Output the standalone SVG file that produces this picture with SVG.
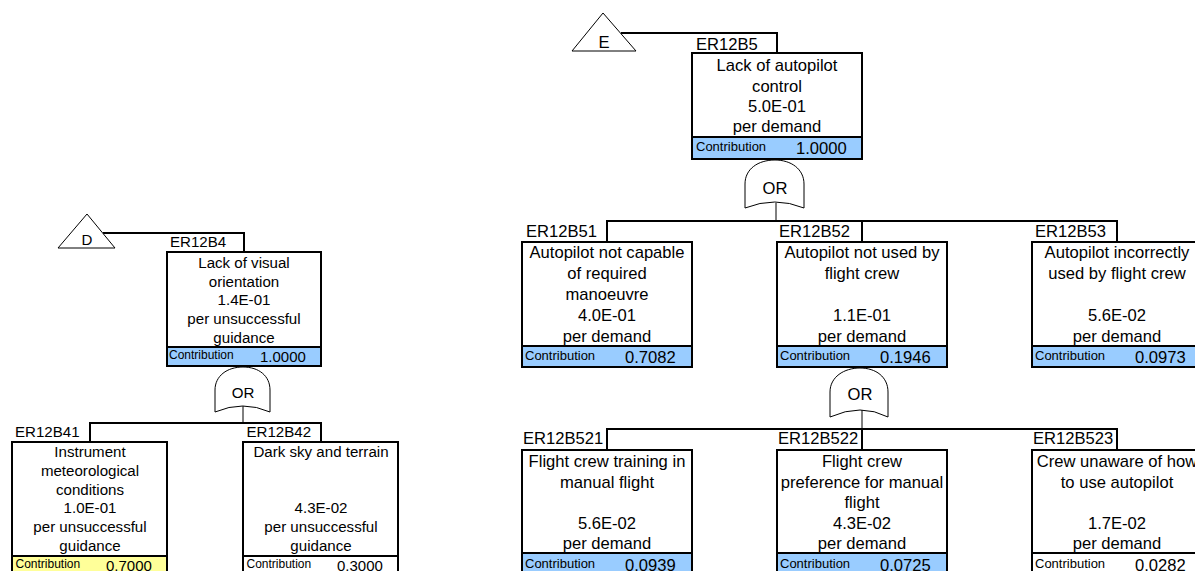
<svg xmlns="http://www.w3.org/2000/svg" width="1195" height="571" viewBox="0 0 1195 571">
<style>
.bg{fill:#ffffff}
.box{fill:#ffffff;stroke:#000;stroke-width:2}
.blue{fill:#99ccff;stroke:#000;stroke-width:2}
.yel{fill:#ffff99;stroke:#000;stroke-width:2}
.wht{fill:#ffffff;stroke:#000;stroke-width:2}
.con{fill:none;stroke:#000;stroke-width:2}
.thin{fill:none;stroke:#000;stroke-width:1}
.gate{fill:#ffffff;stroke:#000;stroke-width:1}
text{font-family:"Liberation Sans",Arial,sans-serif;fill:#000}
.t{font-size:16.6px;text-anchor:middle}
.l{font-size:16.6px}
.c{font-size:13px}
.v{font-size:16.6px}
.td{font-size:15.1px;text-anchor:middle}
.ld{font-size:15.1px}
.cd{font-size:12px}
.vd{font-size:15px}
</style>
<rect class="bg" x="0" y="0" width="1195" height="571"/>

<g id="connectors">
  <!-- D tree -->
  <polyline class="con" points="103,233 244,233 244,252"/>
  <line class="thin" x1="243" y1="406" x2="243" y2="423"/>
  <polyline class="con" points="90,442 90,423 321,423 321,442"/>
  <!-- E tree -->
  <polyline class="con" points="621,33 777,33 777,53"/>
  <line class="thin" x1="776" y1="203" x2="776" y2="221"/>
  <polyline class="con" points="607,242 607,221 1117,221 1117,242"/>
  <line class="con" x1="862" y1="221" x2="862" y2="242"/>
  <line class="thin" x1="862" y1="410" x2="862" y2="429"/>
  <polyline class="con" points="607,450 607,429 1117,429 1117,450"/>
  <line class="con" x1="862" y1="429" x2="862" y2="450"/>
</g>

<!-- Transfer triangles -->
<g id="transfer-D">
  <polygon class="thin" points="58,248 115,248 87,214" style="fill:#fff"/>
  <text class="td" x="87" y="245">D</text>
</g>
<g id="transfer-E">
  <polygon class="thin" points="572,51 636,51 603,13" style="fill:#fff"/>
  <text class="t" x="604" y="48">E</text>
</g>

<!-- D tree -->
<g id="ER12B4">
  <text class="ld" x="170" y="247">ER12B4</text>
  <rect class="box" x="167" y="252" width="154" height="114"/>
  <rect class="blue" x="167" y="347" width="154" height="19"/>
  <text class="td" x="244" y="267.7">Lack of visual</text>
  <text class="td" x="244" y="286.5">orientation</text>
  <text class="td" x="244" y="305.2">1.4E-01</text>
  <text class="td" x="244" y="324">per unsuccessful</text>
  <text class="td" x="244" y="342.7">guidance</text>
  <text class="cd" x="169" y="358.5">Contribution</text>
  <text class="vd" x="260" y="361.5">1.0000</text>
</g>
<g id="gate-ER12B4">
  <path class="gate" d="M215,412 L215,390 C215,376 227,367 243,367 C259,367 270,376 270,390 L270,412 Q243,400 215,412 Z"/>
  <text class="td" x="243" y="398">OR</text>
</g>
<g id="ER12B41">
  <text class="ld" x="15" y="437">ER12B41</text>
  <rect class="box" x="12" y="442" width="155" height="140"/>
  <rect class="yel" x="12" y="556" width="155" height="26"/>
  <text class="td" x="90" y="457">Instrument</text>
  <text class="td" x="90" y="475.8">meteorological</text>
  <text class="td" x="90" y="494.6">conditions</text>
  <text class="td" x="90" y="513.4">1.0E-01</text>
  <text class="td" x="90" y="532.2">per unsuccessful</text>
  <text class="td" x="90" y="551">guidance</text>
  <text class="cd" x="15.5" y="568">Contribution</text>
  <text class="vd" x="106" y="571">0.7000</text>
</g>
<g id="ER12B42">
  <text class="ld" x="246.5" y="437">ER12B42</text>
  <rect class="box" x="243" y="442" width="155" height="140"/>
  <rect class="wht" x="243" y="556" width="155" height="26"/>
  <text class="td" x="321" y="457">Dark sky and terrain</text>
  <text class="td" x="321" y="513.4">4.3E-02</text>
  <text class="td" x="321" y="532.2">per unsuccessful</text>
  <text class="td" x="321" y="551">guidance</text>
  <text class="cd" x="246.5" y="568">Contribution</text>
  <text class="vd" x="337" y="571">0.3000</text>
</g>

<!-- E tree -->
<g id="ER12B5">
  <text class="l" x="696" y="50">ER12B5</text>
  <rect class="box" x="692" y="53" width="170" height="106"/>
  <rect class="blue" x="692" y="137" width="170" height="22"/>
  <text class="t" x="777" y="71">Lack of autopilot</text>
  <text class="t" x="777" y="91.5">control</text>
  <text class="t" x="777" y="112">5.0E-01</text>
  <text class="t" x="777" y="132">per demand</text>
  <text class="c" x="696" y="151">Contribution</text>
  <text class="v" x="796" y="153.5">1.0000</text>
</g>
<g id="gate-ER12B5">
  <path class="gate" d="M745,208 L745,184 C745,169 758,160 775,160 C791,160 804,169 804,184 L804,208 Q775,196 745,208 Z"/>
  <text class="t" x="775" y="193.5">OR</text>
</g>

<g id="ER12B51">
  <text class="l" x="526" y="237">ER12B51</text>
  <rect class="box" x="522" y="242" width="170" height="125"/>
  <rect class="blue" x="522" y="346" width="170" height="21"/>
  <text class="t" x="607" y="258">Autopilot not capable</text>
  <text class="t" x="607" y="279">of required</text>
  <text class="t" x="607" y="300">manoeuvre</text>
  <text class="t" x="607" y="321">4.0E-01</text>
  <text class="t" x="607" y="342">per demand</text>
  <text class="c" x="525" y="359.5">Contribution</text>
  <text class="v" x="625" y="362.5">0.7082</text>
</g>
<g id="ER12B52">
  <text class="l" x="779" y="237">ER12B52</text>
  <rect class="box" x="777" y="242" width="170" height="125"/>
  <rect class="blue" x="777" y="346" width="170" height="21"/>
  <text class="t" x="862" y="258">Autopilot not used by</text>
  <text class="t" x="862" y="279">flight crew</text>
  <text class="t" x="862" y="321">1.1E-01</text>
  <text class="t" x="862" y="342">per demand</text>
  <text class="c" x="780" y="359.5">Contribution</text>
  <text class="v" x="880" y="362.5">0.1946</text>
</g>
<g id="ER12B53">
  <text class="l" x="1035" y="237">ER12B53</text>
  <rect class="box" x="1032" y="242" width="170" height="125"/>
  <rect class="blue" x="1032" y="346" width="170" height="21"/>
  <text class="t" x="1117" y="258">Autopilot incorrectly</text>
  <text class="t" x="1117" y="279">used by flight crew</text>
  <text class="t" x="1117" y="321">5.6E-02</text>
  <text class="t" x="1117" y="342">per demand</text>
  <text class="c" x="1035" y="359.5">Contribution</text>
  <text class="v" x="1135" y="362.5">0.0973</text>
</g>
<g id="gate-ER12B52">
  <path class="gate" d="M830,417 L830,392 C830,377 844,368 860,368 C876,368 888,377 888,392 L888,417 Q861,403 830,417 Z"/>
  <text class="t" x="860" y="399.5">OR</text>
</g>

<g id="ER12B521">
  <text class="l" x="523" y="444">ER12B521</text>
  <rect class="box" x="522" y="450" width="170" height="130"/>
  <rect class="blue" x="522" y="553" width="170" height="27"/>
  <text class="t" x="607" y="467">Flight crew training in</text>
  <text class="t" x="607" y="487.5">manual flight</text>
  <text class="t" x="607" y="528.5">5.6E-02</text>
  <text class="t" x="607" y="549">per demand</text>
  <text class="c" x="525" y="567.5">Contribution</text>
  <text class="v" x="625" y="571">0.0939</text>
</g>
<g id="ER12B522">
  <text class="l" x="778" y="444">ER12B522</text>
  <rect class="box" x="777" y="450" width="170" height="130"/>
  <rect class="blue" x="777" y="553" width="170" height="27"/>
  <text class="t" x="862" y="467">Flight crew</text>
  <text class="t" x="862" y="487.5">preference for manual</text>
  <text class="t" x="862" y="508">flight</text>
  <text class="t" x="862" y="528.5">4.3E-02</text>
  <text class="t" x="862" y="549">per demand</text>
  <text class="c" x="780" y="567.5">Contribution</text>
  <text class="v" x="880" y="571">0.0725</text>
</g>
<g id="ER12B523">
  <text class="l" x="1033" y="444">ER12B523</text>
  <rect class="box" x="1032" y="450" width="170" height="130"/>
  <rect class="wht" x="1032" y="553" width="170" height="27"/>
  <text class="t" x="1117" y="467">Crew unaware of how</text>
  <text class="t" x="1117" y="487.5">to use autopilot</text>
  <text class="t" x="1117" y="528.5">1.7E-02</text>
  <text class="t" x="1117" y="549">per demand</text>
  <text class="c" x="1035" y="567.5">Contribution</text>
  <text class="v" x="1135" y="571">0.0282</text>
</g>
</svg>
